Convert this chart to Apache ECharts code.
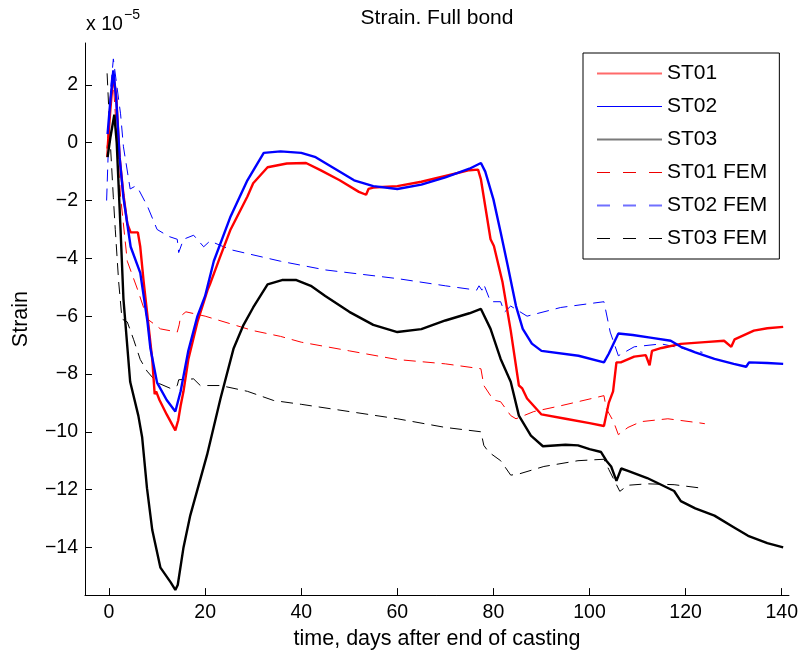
<!DOCTYPE html>
<html>
<head>
<meta charset="utf-8">
<script src="https://cdn.jsdelivr.net/npm/echarts@6/dist/echarts.min.js"></script>
<style>html,body{margin:0;padding:0;background:#fff}#c{width:801px;height:655px}</style>
</head>
<body>
<div id="c"></div>
<script>
// values in units of 1e-5, time in days
var xTicks = [0, 20, 40, 60, 80, 100, 120, 140];
var yTicks = [-14, -12, -10, -8, -6, -4, -2, 0, 2];
var seriesNames = ['ST01', 'ST02', 'ST03', 'ST01 FEM', 'ST02 FEM', 'ST03 FEM'];

var st01 = [[-0.3,-0.2],[0.3,1.2],[0.9,2.35],[1.5,1.6],[2.2,-0.5],[3,-1.8],[3.8,-2.8],[4.5,-3.1],[6,-3.1],[6.5,-3.6],[7.2,-4.8],[8,-6.0],[9,-7.5],[9.5,-8.7],[9.8,-8.6],[10.5,-8.9],[12,-9.4],[13.8,-9.95],[14.4,-9.6],[14.9,-9.1],[15.5,-8.6],[16.5,-7.5],[18.4,-6.2],[20.5,-5.1],[21,-4.9],[23,-4.0],[25.3,-3.0],[28.8,-1.86],[30,-1.4],[33,-0.85],[37,-0.72],[41,-0.7],[44,-0.95],[48,-1.3],[52,-1.7],[53.5,-1.8],[54,-1.6],[55,-1.55],[60,-1.5],[65,-1.35],[70,-1.15],[75,-0.95],[76.8,-0.93],[77.4,-1.27],[79.4,-3.34],[80.1,-3.57],[81.9,-4.83],[83.6,-6.5],[85.3,-8.4],[86,-8.5],[87,-8.85],[90,-9.4],[95,-9.55],[100,-9.7],[103,-9.8],[104,-9.0],[104.9,-8.6],[105.6,-7.6],[106.5,-7.6],[109.3,-7.4],[111.7,-7.35],[112.5,-7.7],[113,-7.2],[115,-7.1],[119,-6.96],[124,-6.9],[128,-6.85],[129.5,-7.06],[130.2,-6.8],[134.2,-6.5],[137,-6.42],[140.3,-6.37]];

var st02 = [[-0.3,0.3],[0.3,1.5],[0.9,2.5],[1.5,1.5],[2.2,-0.5],[3,-1.9],[4.5,-3.6],[6.5,-4.5],[8,-6.2],[8.6,-7.1],[10,-8.3],[12,-8.9],[13.8,-9.3],[14.9,-8.6],[16.5,-7.2],[18.4,-6.0],[20,-5.3],[21.8,-4.1],[25.3,-2.55],[28.8,-1.3],[32.2,-0.35],[35.7,-0.3],[40,-0.35],[43,-0.5],[47,-0.9],[51,-1.3],[55,-1.5],[60,-1.6],[65,-1.45],[70,-1.2],[75,-0.9],[77.4,-0.7],[78.3,-1.0],[80,-1.96],[81.5,-3.1],[83,-4.27],[84.7,-5.65],[86.1,-6.44],[88,-6.95],[90,-7.2],[97.7,-7.37],[103,-7.6],[104,-7.3],[106,-6.6],[109,-6.65],[113,-6.75],[116.9,-6.85],[119,-7.06],[122,-7.25],[126,-7.48],[130,-7.65],[132.6,-7.75],[133.2,-7.6],[137,-7.62],[140.3,-7.65]];

var st03 = [[-0.3,-0.5],[0.3,0.2],[1.1,0.97],[1.6,0.0],[2.4,-3.0],[3,-5.4],[4.4,-8.27],[6.1,-9.44],[6.9,-10.2],[7.9,-11.95],[9,-13.4],[10.7,-14.7],[12.8,-15.2],[13.8,-15.47],[14.3,-15.3],[15.5,-14.0],[16.9,-12.9],[20.4,-10.8],[23.2,-8.85],[25.9,-7.13],[28,-6.3],[30,-5.7],[33,-4.9],[36,-4.75],[39,-4.75],[42,-4.95],[45,-5.3],[50,-5.85],[55,-6.3],[60,-6.55],[65,-6.45],[70,-6.15],[75,-5.9],[77.4,-5.75],[79.4,-6.44],[81.5,-7.48],[83.6,-8.27],[85.3,-9.44],[87.8,-10.13],[90.3,-10.5],[95,-10.45],[97.6,-10.47],[100,-10.6],[102.4,-10.7],[103.5,-11.0],[104.5,-11.2],[105.6,-11.7],[106.6,-11.27],[108,-11.35],[112,-11.6],[117.6,-12.05],[119,-12.4],[122,-12.65],[126,-12.9],[130,-13.3],[133,-13.6],[137,-13.85],[140.3,-14.0]];

var st01Fem = [[-0.5,-0.5],[0.2,1.5],[0.8,2.3],[1.5,0.5],[2.4,-1.86],[3.8,-4.1],[5.9,-5.06],[8,-6.1],[10.7,-6.44],[14.2,-6.55],[14.6,-6.3],[14.9,-6.0],[16,-5.85],[20,-6.0],[25,-6.25],[30,-6.5],[35.7,-6.7],[40,-6.9],[50,-7.2],[60,-7.5],[70,-7.65],[77.4,-7.82],[78,-8.4],[80,-8.9],[81.5,-8.96],[83.6,-9.44],[84.7,-9.55],[88.4,-9.3],[94,-9.1],[103,-8.75],[103.5,-9.2],[105,-9.65],[106,-10.1],[108,-9.85],[110.7,-9.65],[116.3,-9.55],[123.2,-9.7],[124,-9.72]];

var st02Fem = [[-0.5,-2.0],[-0.1,0.0],[0.4,2.0],[0.9,2.9],[1.6,2.0],[2.4,1.0],[3,-0.14],[4.4,-1.6],[5.5,-1.5],[6.1,-1.6],[8,-2.2],[10,-3.0],[12.4,-3.24],[14.2,-3.34],[14.5,-3.8],[15.5,-3.34],[17.6,-3.2],[19.7,-3.6],[21,-3.4],[25.3,-3.7],[35.7,-4.1],[45,-4.4],[60,-4.7],[70,-4.95],[76.5,-5.1],[77,-4.95],[77.6,-5.1],[78,-4.9],[79.4,-5.5],[81.5,-5.5],[82.3,-5.86],[83.6,-5.65],[87,-6.0],[94,-5.7],[103,-5.5],[104.3,-6.55],[106,-7.37],[109.3,-7.06],[114.9,-6.96],[121.8,-7.2],[123.5,-7.25]];

var st03Fem = [[-0.4,2.4],[0.3,-0.1],[0.9,-1.9],[1.3,-3.0],[2,-4.8],[2.7,-6.1],[3.8,-6.2],[5.1,-6.8],[6.5,-7.5],[7.9,-7.9],[10,-8.3],[12.8,-8.5],[14.2,-8.4],[14.5,-8.2],[17.6,-8.17],[19,-8.4],[23.2,-8.4],[28.8,-8.6],[34.3,-8.92],[40,-9.05],[50,-9.3],[60,-9.55],[70,-9.85],[77.4,-10.0],[78,-10.47],[79,-10.7],[81.5,-11.0],[83.6,-11.5],[85.5,-11.45],[90.5,-11.2],[97.6,-11.0],[103,-10.95],[104,-11.3],[106.3,-12.06],[108,-11.85],[112,-11.8],[117.6,-11.83],[123.8,-11.96]];

var FONT = "'Liberation Sans', Arial, Helvetica, sans-serif";
var ICON_SOLID2 = 'path://M0,0H65V2H0Z';
var ICON_SOLID1 = 'path://M0,0H65V1H0Z';
var ICON_DASH1 = 'path://M0,0H13V1H0ZM26,0H39V1H26ZM52,0H65V1H52Z';
var ICON_DASH2 = 'path://M0,0H13V2H0ZM26,0H39V2H26ZM52,0H65V2H52Z';

function minus(v){ return (v < 0 ? '\u2212' : '') + Math.abs(v); }
function solid(name, data, color){
  return {name:name, type:'line', data:data, symbol:'none', showSymbol:false, smooth:false,
    lineStyle:{color:color, width:2.4}, itemStyle:{color:color}, z:3};
}
function dashed(name, data, color){
  return {name:name, type:'line', data:data, symbol:'none', showSymbol:false, smooth:false,
    lineStyle:{color:color, width:1, type:[12,7]}, itemStyle:{color:color}, z:2};
}

var chart = echarts.init(document.getElementById('c'), null, {renderer:'canvas'});
chart.setOption({
  animation:false,
  backgroundColor:'#fff',
  title:{text:'Strain. Full bond', left:437, top:8, textAlign:'center', padding:0,
    textStyle:{fontFamily:FONT, fontSize:21, fontWeight:'normal', color:'#000'}},
  graphic:[
    {type:'text', style:{x:86, y:25, text:'x 10', fontFamily:FONT, fontSize:19.5, fill:'#000', verticalAlign:'middle'}},
    {type:'text', style:{x:124, y:15, text:'\u22125', fontFamily:FONT, fontSize:14, fill:'#000', verticalAlign:'middle'}}
  ],
  grid:{left:85, right:12, top:43, bottom:58, containLabel:false},
  legend:{
    orient:'vertical', left:583, top:53, padding:[10,12,10,14],
    itemWidth:65, itemHeight:14, itemGap:12, symbolKeepAspect:true,
    borderColor:'#000', borderWidth:1, backgroundColor:'#fff',
    textStyle:{fontFamily:FONT, fontSize:21, color:'#000', lineHeight:14},
    data:[
      {name:'ST01', icon:ICON_SOLID2, itemStyle:{color:'#ff6a6a'}},
      {name:'ST02', icon:ICON_SOLID1, itemStyle:{color:'#0000ff'}},
      {name:'ST03', icon:ICON_SOLID2, itemStyle:{color:'#7a7a7a'}},
      {name:'ST01 FEM', icon:ICON_DASH1, itemStyle:{color:'#ee0000'}},
      {name:'ST02 FEM', icon:ICON_DASH2, itemStyle:{color:'#7070ff'}},
      {name:'ST03 FEM', icon:ICON_DASH1, itemStyle:{color:'#000000'}}
    ]
  },
  xAxis:{type:'value', min:-5, max:141.5,
    name:'time, days after end of casting', nameLocation:'middle', nameGap:31,
    nameTextStyle:{fontFamily:FONT, fontSize:21.5, color:'#000'},
    axisLine:{show:true, onZero:false, lineStyle:{color:'#000', width:1}},
    axisTick:{show:true, inside:true, length:7, customValues:xTicks, lineStyle:{color:'#000'}},
    axisLabel:{customValues:xTicks, margin:8, fontFamily:FONT, fontSize:19.5, color:'#000', formatter:minus},
    splitLine:{show:false}
  },
  yAxis:{type:'value', min:-15.65, max:3.45,
    name:'Strain', nameLocation:'middle', nameGap:53, nameRotate:90,
    nameTextStyle:{fontFamily:FONT, fontSize:21.5, color:'#000'},
    axisLine:{show:true, onZero:false, lineStyle:{color:'#000', width:1}},
    axisTick:{show:true, inside:true, length:7, customValues:yTicks, lineStyle:{color:'#000'}},
    axisLabel:{customValues:yTicks, margin:7, fontFamily:FONT, fontSize:19.5, color:'#000', formatter:minus},
    splitLine:{show:false}
  },
  series:[
    dashed(seriesNames[3], st01Fem, '#ff0000'),
    dashed(seriesNames[4], st02Fem, '#0000ff'),
    dashed(seriesNames[5], st03Fem, '#000000'),
    solid(seriesNames[0], st01, '#ff0000'),
    solid(seriesNames[1], st02, '#0000ff'),
    solid(seriesNames[2], st03, '#000000')
  ]
});
</script>
</body>
</html>
